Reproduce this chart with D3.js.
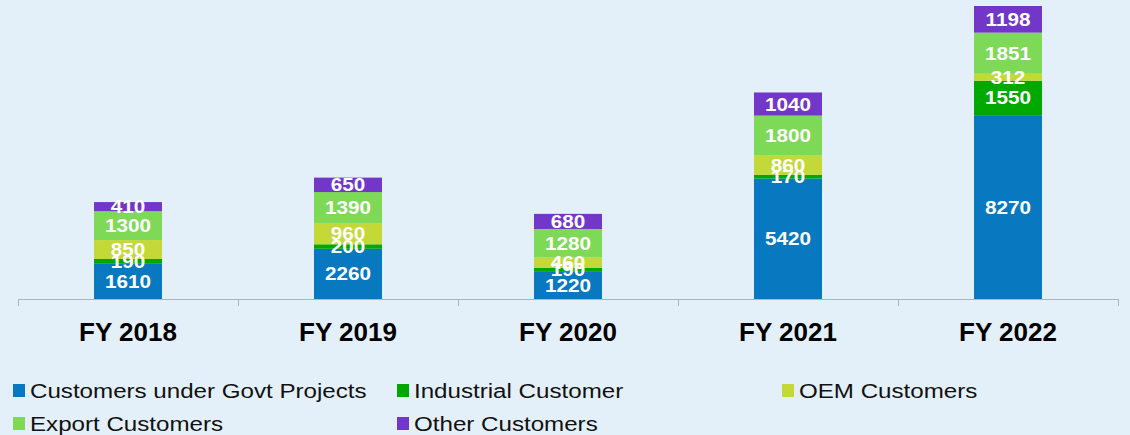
<!DOCTYPE html>
<html><head><meta charset="utf-8">
<script src="https://cdn.jsdelivr.net/npm/d3@7"></script>
<style>html,body{margin:0;padding:0;background:#E4F0F9;}svg{display:block;}</style>
</head><body>
<script>
const categories = ["FY 2018","FY 2019","FY 2020","FY 2021","FY 2022"];
const seriesNames = ["Customers under Govt Projects","Industrial Customer","OEM Customers","Export Customers","Other Customers"];
const govt = [1610,2260,1220,5420,8270];
const industrial = [190,200,190,170,1550];
const oem = [850,960,460,860,312];
const exportC = [1300,1390,1280,1800,1851];
const other = [410,650,680,1040,1198];
const colors = ["#0878C0","#00A800","#C4D838","#7ED957","#7236C8"];

const W=1130,H=435;
const FONT="Liberation Sans, Arial, sans-serif";
const svg=d3.select("body").append("svg").attr("width",W).attr("height",H);
svg.append("rect").attr("width",W).attr("height",H).attr("fill","#E4F0F9");
const seriesVals=[govt,industrial,oem,exportC,other];
const rows=categories.map((c,i)=>{const r={cat:c};seriesNames.forEach((s,j)=>r[s]=seriesVals[j][i]);return r;});
const stack=d3.stack().keys(seriesNames)(rows);
const x=d3.scaleBand().domain(categories).range([18,1118]).paddingInner(0).paddingOuter(0);
const y=d3.scaleLinear().domain([0,13181]).range([299,6]);
const bw=68;
const g=svg.append("g");
stack.forEach((layer,j)=>{
  g.selectAll(null).data(layer).enter().append("rect")
   .attr("x",d=>x(d.data.cat)+x.bandwidth()/2-bw/2)
   .attr("width",bw)
   .attr("y",d=>y(d[1]))
   .attr("height",d=>y(d[0])-y(d[1]))
   .attr("fill",colors[j]);
});
stack.forEach((layer,j)=>{
  g.selectAll(null).data(layer).enter().append("text")
   .attr("transform",d=>`translate(${x(d.data.cat)+x.bandwidth()/2},${(y(d[0])+y(d[1]))/2+6.5}) scale(1.15,1)`)
   .attr("text-anchor","middle")
   .attr("fill","#fff")
   .attr("font-family",FONT)
   .attr("font-weight","bold")
   .attr("font-size",18)
   .text(d=>d[1]-d[0]);
});
// axis line and ticks
svg.append("line").attr("x1",18).attr("x2",1118).attr("y1",299.5).attr("y2",299.5).attr("stroke","#AEB4B9").attr("stroke-width",1);
const bounds=[...categories.map(c=>x(c)),x.range()[1]];
bounds.forEach(b=>svg.append("line").attr("x1",b+0.5).attr("x2",b+0.5).attr("y1",299).attr("y2",306).attr("stroke","#AEB4B9"));
svg.selectAll(".cat").data(categories).enter().append("text")
  .attr("transform",d=>`translate(${x(d)+x.bandwidth()/2},341) scale(1.04,1)`)
  .attr("text-anchor","middle").attr("font-family",FONT)
  .attr("font-weight","bold").attr("font-size",25).attr("fill","#000").text(d=>d);
// legend
const legPos=[[13,398],[397,398],[782,398],[13,431],[397,431]];
seriesNames.forEach((s,i)=>{
  const [lx,ly]=legPos[i];
  svg.append("rect").attr("x",lx).attr("y",ly-14).attr("width",12).attr("height",13).attr("fill",colors[i]);
  svg.append("text").attr("transform",`translate(${lx+17},${ly}) scale(1.15,1)`).attr("font-family",FONT)
    .attr("font-size",21).attr("fill","#111").text(s);
});
</script>
</body></html>
